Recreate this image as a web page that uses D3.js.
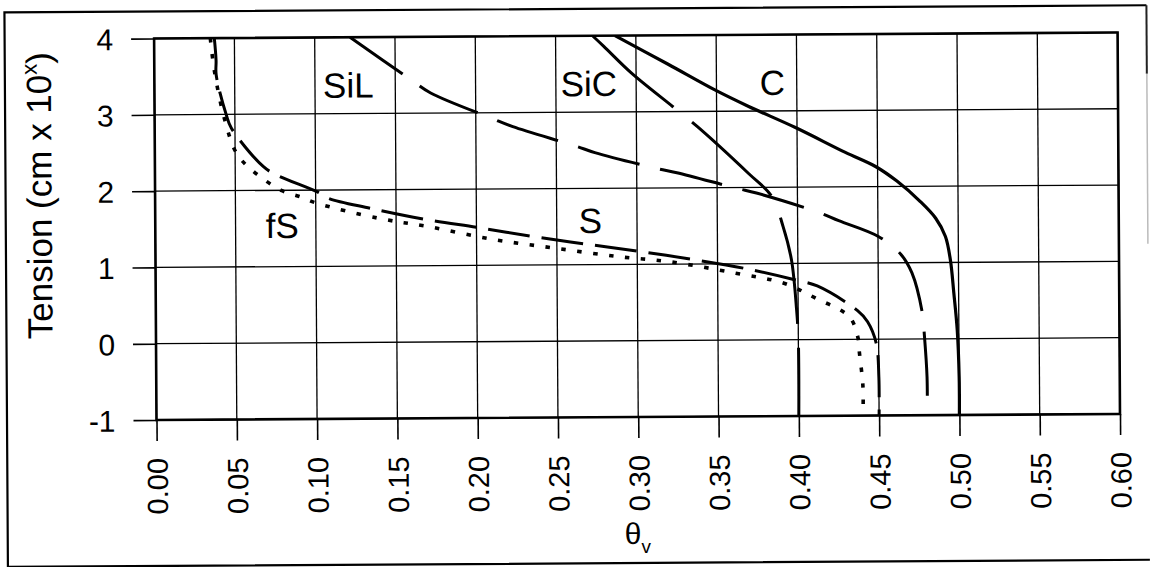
<!DOCTYPE html>
<html>
<head>
<meta charset="utf-8">
<script src="https://cdn.jsdelivr.net/npm/d3@7"></script>
<style>
  html, body { margin: 0; padding: 0; background: #fff; }
  svg { display: block; font-family: Arial, "Liberation Sans", sans-serif; }
</style>
</head>
<body>
<svg id="chart" width="1151" height="567"></svg>
<script>
// Water retention curves: volumetric water content vs. log10 tension
const xTicks = [0.00, 0.05, 0.10, 0.15, 0.20, 0.25, 0.30, 0.35, 0.40, 0.45, 0.50, 0.55, 0.60];
const yTicks = [-1, 0, 1, 2, 3, 4];

// [theta_v, log10 tension]
const clay = [[0.287,4],[0.32,3.62],[0.349,3.28],[0.37,3.06],[0.399,2.78],[0.43,2.45],[0.449,2.26],
  [0.462,2.07],[0.476,1.81],[0.486,1.58],[0.492,1.34],[0.495,1.03],[0.497,0.6],[0.499,0.11],[0.5,-0.5],[0.5,-1]];
const siltyClay = [[0.273,4],[0.28,3.86],[0.297,3.51],[0.323,3.06],[0.338,2.80],[0.3695,2.185],[0.384,1.88],
  [0.391,1.48],[0.396,1.05],[0.399,0.4],[0.4,0],[0.4,-1]];
const siltLoam = [[0.122,4],[0.160,3.435],[0.172,3.263],[0.2095,2.93],[0.223,2.815],[0.262,2.557],[0.274,2.468],
  [0.312,2.258],[0.325,2.198],[0.362,1.99],[0.3745,1.925],[0.413,1.668],[0.4256,1.556],[0.4505,1.343],
  [0.464,1.115],[0.471,0.865],[0.4773,0.34],[0.4785,0.05],[0.48,-0.5],[0.48,-1]];
const sand = [[0.0375,4],[0.0385,3.71],[0.0385,3.52],[0.0447,2.99],[0.0478,2.817],[0.0676,2.311],[0.0759,2.2],
  [0.1007,1.979],[0.108,1.891],[0.134,1.757],[0.168,1.608],[0.2014,1.494],[0.2357,1.372],[0.2692,1.267],
  [0.3027,1.166],[0.3364,1.053],[0.3695,0.927],[0.3986,0.782],[0.412,0.702],[0.437,0.375],[0.4432,0.23],
  [0.4485,-0.054],[0.45,-0.5],[0.45,-1]];
const fineSand = [[0.035,4],[0.0375,3.56],[0.0437,2.926],[0.0509,2.489],[0.0603,2.269],[0.079,1.995],[0.0904,1.915],
  [0.0997,1.835],[0.1392,1.625],[0.1703,1.511],[0.2097,1.341],[0.2492,1.218],[0.2886,1.102],[0.3197,1.033],
  [0.3613,0.876],[0.3913,0.74],[0.4111,0.541],[0.4318,0.297],[0.437,0.034],[0.438,-0.18],[0.44,-0.6],[0.44,-1]];

const series = [
  { name: "C",   data: clay,       dash: null,       width: 3.2 },
  { name: "SiC", data: siltyClay,  dash: "108,24",   width: 3.0 },
  { name: "SiL", data: siltLoam,   dash: "64,21",    width: 3.0 },
  { name: "S",   data: sand,       dash: "42,12",    width: 3.0 },
  { name: "fS",  data: fineSand,   dash: "4.5,11.5", width: 3.6 }
];

// curve labels: [text, theta_v, log10 tension] (baseline-left position)
const curveLabels = [["SiL", 0.105, 3.21], ["SiC", 0.253, 3.21], ["C", 0.377, 3.21], ["S", 0.2637, 1.415], ["fS", 0.0688, 1.376]];

const svg = d3.select("#chart");
const plotLeft = 156.5, plotRight = 1120, plotTop = 38.5, plotBottom = 420;
const x = d3.scaleLinear().domain([0, 0.6]).range([plotLeft, plotRight]);
const y = d3.scaleLinear().domain([-1, 4]).range([plotBottom, plotTop]);

// whole figure is slightly tilted
const root = svg.append("g").attr("transform", `rotate(-0.36, ${plotLeft}, ${plotBottom})`);

// outer border
root.append("path")
  .attr("d", `M1149,11.5 L7,11.5 L7,580 M7,566 L1149,566`)
  .attr("fill", "none").attr("stroke", "#000").attr("stroke-width", 2.2);
root.append("line").attr("x1", 1149).attr("x2", 1149).attr("y1", 11.5).attr("y2", 80)
  .attr("stroke", "#222").attr("stroke-width", 2);
root.append("line").attr("x1", 1149).attr("x2", 1149).attr("y1", 80).attr("y2", 250)
  .attr("stroke", "#bbb").attr("stroke-width", 1.5);

// grid
const grid = root.append("g");
grid.selectAll("line.v").data(xTicks).join("line")
  .attr("x1", d => x(d)).attr("x2", d => x(d)).attr("y1", plotTop).attr("y2", plotBottom)
  .attr("stroke", "#000").attr("stroke-width", 1.3);
grid.selectAll("line.h").data(yTicks).join("line")
  .attr("x1", plotLeft).attr("x2", plotRight).attr("y1", d => y(d)).attr("y2", d => y(d))
  .attr("stroke", "#000").attr("stroke-width", 1.3);

// axes
const xAxis = root.append("g").attr("transform", `translate(0,${plotBottom})`)
  .call(d3.axisBottom(x).tickValues(xTicks).tickSize(21).tickSizeOuter(0).tickFormat(d => d.toFixed(2)));
xAxis.select(".domain").remove();
xAxis.selectAll(".tick line").attr("stroke", "#000").attr("stroke-width", 1.6);
xAxis.selectAll(".tick text")
  .attr("font-size", 29).attr("fill", "#000")
  .attr("transform", "rotate(-90)")
  .attr("text-anchor", "end")
  .attr("x", -38).attr("y", 0).attr("dy", "0.36em");

const yAxis = root.append("g").attr("transform", `translate(${plotLeft},0)`)
  .call(d3.axisLeft(y).tickValues(yTicks).tickSize(23).tickSizeOuter(0).tickFormat(d => String(d)));
yAxis.select(".domain").remove();
yAxis.selectAll(".tick line").attr("stroke", "#000").attr("stroke-width", 1.6);
yAxis.selectAll(".tick text").attr("font-size", 30).attr("fill", "#000").attr("x", -41).attr("dy", "0.36em");

// plot frame
root.append("rect").attr("x", plotLeft).attr("y", plotTop)
  .attr("width", plotRight - plotLeft).attr("height", plotBottom - plotTop)
  .attr("fill", "none").attr("stroke", "#000").attr("stroke-width", 2.6);

// curves
const line = d3.line().x(d => x(d[0])).y(d => y(d[1])).curve(d3.curveCatmullRom.alpha(0.5));
const clipId = "plotClip";
root.append("clipPath").attr("id", clipId).append("rect")
  .attr("x", plotLeft).attr("y", plotTop).attr("width", plotRight - plotLeft).attr("height", plotBottom - plotTop);
root.append("g").attr("clip-path", `url(#${clipId})`)
  .selectAll("path").data(series).join("path")
  .attr("d", d => line(d.data))
  .attr("fill", "none").attr("stroke", "#000")
  .attr("stroke-width", d => d.width)
  .attr("stroke-dasharray", d => d.dash)
  .attr("stroke-linecap", "butt");

// curve labels
root.append("g").selectAll("text").data(curveLabels).join("text")
  .attr("x", d => x(d[1])).attr("y", d => y(d[2]))
  .attr("font-size", 35).attr("fill", "#000")
  .text(d => d[0]);

// axis titles
const yTitle = root.append("text")
  .attr("transform", "translate(53,195) rotate(-90)")
  .attr("text-anchor", "middle").attr("font-size", 35).attr("fill", "#000");
yTitle.append("tspan").text("Tension (cm x 10");
yTitle.append("tspan").attr("font-size", 22).attr("dy", -14).text("x");
yTitle.append("tspan").attr("dy", 14).text(")");

const xTitle = root.append("text")
  .attr("x", 624).attr("y", 547).attr("font-size", 30).attr("fill", "#000");
xTitle.append("tspan").text("θ");
xTitle.append("tspan").attr("font-size", 19).attr("dy", 9).text("v");
</script>
</body>
</html>
